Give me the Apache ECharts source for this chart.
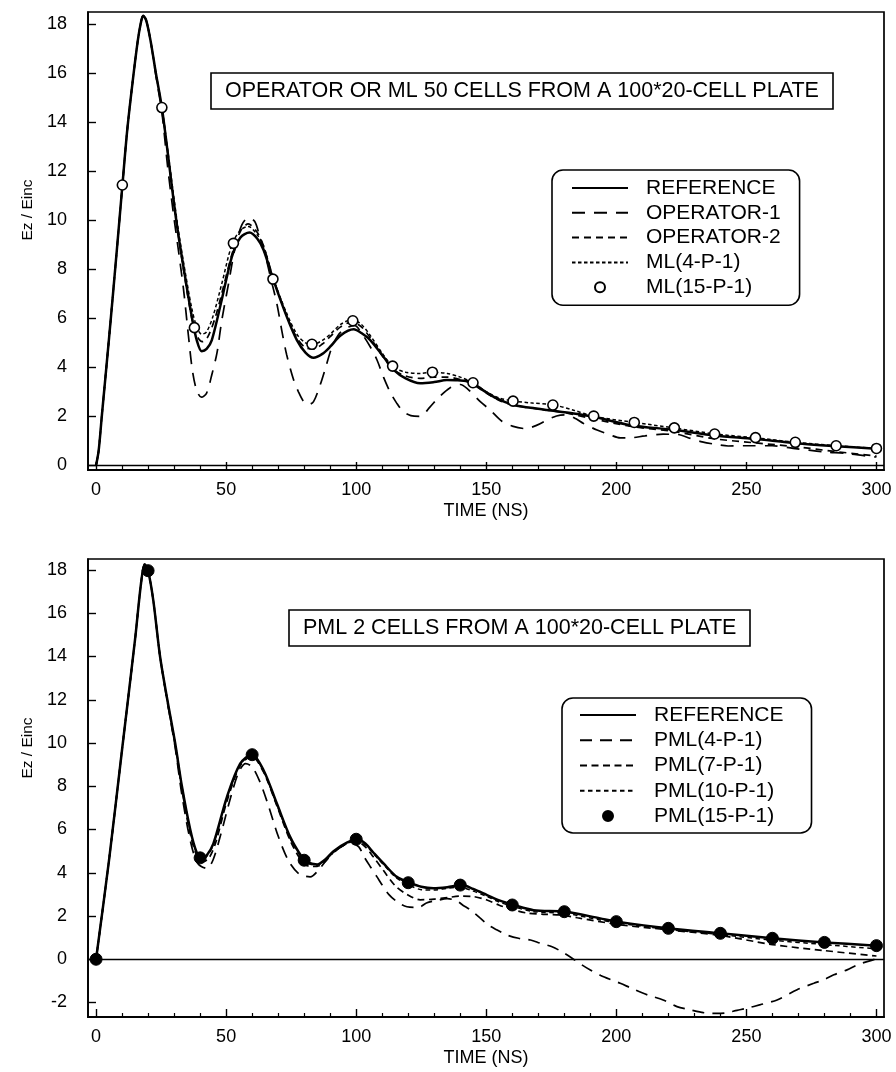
<!DOCTYPE html>
<html><head><meta charset="utf-8">
<script src="https://cdn.jsdelivr.net/npm/echarts@6/dist/echarts.min.js"></script>
<style>html,body{margin:0;padding:0;background:#fff}#c{width:896px;height:1072px}</style>
</head><body><div id="c"></div>
<script>
// ---------- tick labels ----------
const X_TICKS = [0, 50, 100, 150, 200, 250, 300];
const X_MINOR = [10, 20, 30, 40, 60, 70, 80, 90, 110, 120, 130, 140, 160, 170, 180, 190, 210, 220, 230, 240, 260, 270, 280, 290];
const TOP_Y_TICKS = [0, 2, 4, 6, 8, 10, 12, 14, 16, 18];
const BOT_Y_TICKS = [-2, 0, 2, 4, 6, 8, 10, 12, 14, 16, 18];

// ---------- titles / names ----------
const TOP_TITLE = 'OPERATOR OR ML 50 CELLS FROM A 100*20-CELL PLATE';
const BOT_TITLE = 'PML 2 CELLS FROM A 100*20-CELL PLATE';
const X_NAME = 'TIME (NS)';
const Y_NAME = 'Ez / Einc';
const TOP_NAMES = ['REFERENCE', 'OPERATOR-1', 'OPERATOR-2', 'ML(4-P-1)', 'ML(15-P-1)'];
const BOT_NAMES = ['REFERENCE', 'PML(4-P-1)', 'PML(7-P-1)', 'PML(10-P-1)', 'PML(15-P-1)'];

// ---------- top panel data [time (ns), Ez/Einc] ----------
const TOP_REF = [[0,0],[1,0.6],[2.2,2.0],[5,5.2],[8,8.8],[10.1,11.4],[12,13.7],[14,15.6],[16,17.3],[17.2,18.05],[18.1,18.35],[19.3,18.15],[21,17.3],[23,16.0],[25.3,14.6],[27.5,12.8],[29.7,10.9],[31.5,9.5],[33.6,8.1],[36.8,6.07],[38.7,5.11],[40.6,4.66],[42.5,4.75],[44.5,5.11],[48.3,6.75],[52.2,8.51],[55.5,9.3],[59,9.5],[62,9.25],[64.4,8.79],[68.2,7.56],[73.3,6.07],[77.2,5.11],[80.5,4.6],[83.6,4.39],[87,4.55],[90,4.84],[94,5.3],[99,5.55],[102,5.4],[105.4,5.11],[110.5,4.43],[114.4,3.9],[119,3.55],[124.6,3.35],[130,3.4],[134.9,3.48],[139,3.47],[143.8,3.41],[149,3.05],[154,2.73],[160.5,2.46],[167,2.35],[173.3,2.26],[183.6,2.12],[191.3,1.98],[205.4,1.64],[222,1.45],[238,1.22],[253,1.08],[269,0.9],[284.5,0.78],[300,0.68]];
const TOP_OP1 = [[0,0],[1,0.6],[2.2,2.0],[5,5.2],[8,8.8],[10.1,11.4],[12,13.7],[14,15.6],[16,17.3],[17.2,18.05],[18.1,18.35],[19.3,18.15],[21,17.3],[23,15.9],[25.3,14.4],[27.5,12.2],[29.7,10.3],[31.5,8.9],[33.6,7.2],[35.5,5.3],[37,3.9],[38.7,3.05],[40.5,2.78],[42.5,2.95],[44.5,3.7],[46.5,4.6],[48.3,5.9],[50.9,7.4],[53.5,8.9],[56,9.8],[58.5,10.1],[61,9.95],[63,9.3],[65,8.6],[67,7.7],[69.5,6.6],[71.4,5.5],[73.3,4.5],[75.9,3.5],[77.8,3.0],[79.7,2.62],[81.6,2.48],[83.6,2.6],[86.2,3.3],[88,3.9],[90.6,4.8],[93,5.3],[96,5.6],[99.5,5.7],[102,5.4],[105.4,4.84],[108,4.3],[110.5,3.6],[113,3.0],[115.5,2.55],[118,2.2],[121,2.03],[124.6,2.0],[128.5,2.4],[131.5,2.75],[136,3.16],[140,3.3],[143,3.1],[147.7,2.6],[151.5,2.26],[156,1.8],[160,1.6],[165,1.5],[169.5,1.64],[174.6,1.92],[178.5,2.05],[181,2.06],[184.5,1.9],[187.4,1.71],[192.6,1.44],[197.7,1.24],[201.5,1.12],[205,1.12],[211,1.2],[218,1.27],[223.5,1.26],[228.5,1.1],[233,0.96],[238,0.86],[243,0.79],[250,0.8],[260,0.8],[268,0.69],[274,0.62],[280,0.55],[289,0.48],[296,0.38],[300,0.34]];
const TOP_OP2 = [[0,0],[1,0.6],[2.2,2.0],[5,5.2],[8,8.8],[10.1,11.4],[12,13.7],[14,15.6],[16,17.3],[17.2,18.05],[18.1,18.35],[19.3,18.15],[21,17.3],[23,16.0],[25.3,14.6],[27.5,12.8],[29.7,10.9],[31.5,9.5],[33.6,8.0],[36.8,6.0],[38.7,5.3],[40.8,5.05],[43,5.25],[46,6.1],[49,7.3],[52.2,8.6],[55.5,9.55],[58.5,9.85],[62,9.5],[64.4,8.95],[68.2,7.6],[73.3,6.1],[77.2,5.2],[80.5,4.8],[83.6,4.75],[87,4.95],[90,5.25],[94,5.65],[98.5,5.85],[102,5.65],[105.4,5.2],[110.5,4.4],[114.4,3.9],[119,3.65],[124.6,3.55],[130,3.6],[135,3.6],[140,3.5],[145,3.3],[150,2.95],[155,2.65],[160.5,2.45],[170,2.3],[180,2.15],[191,1.9],[205,1.6],[222,1.38],[238,1.08],[253,0.92],[269,0.76],[284.5,0.56],[300,0.38]];
const TOP_ML4 = [[0,0],[1,0.6],[2.2,2.0],[5,5.2],[8,8.8],[10.1,11.4],[12,13.7],[14,15.6],[16,17.3],[17.2,18.05],[18.1,18.35],[19.3,18.15],[21,17.3],[23,16.0],[25.3,14.6],[27.5,12.9],[29.7,11.1],[31.5,9.7],[33.6,8.3],[36.8,6.4],[38.7,5.65],[40.6,5.35],[42.5,5.45],[45,6.1],[48.3,7.4],[52.2,9.0],[55.5,9.6],[58.5,9.75],[62,9.4],[64.4,8.95],[68.2,7.6],[73.3,6.2],[77.2,5.35],[80.5,5.0],[83.6,4.95],[87,5.1],[90,5.35],[94,5.75],[98.5,5.95],[102,5.75],[105.4,5.3],[110.5,4.5],[114.4,4.0],[119,3.8],[124.6,3.75],[129.3,3.8],[135,3.75],[140,3.6],[145,3.37],[150,3.0],[155,2.75],[160.5,2.62],[167,2.55],[176,2.46],[183.6,2.25],[191.3,2.0],[207,1.75],[222,1.53],[238,1.28],[253,1.13],[269,0.94],[284.5,0.8],[300,0.69]];
const TOP_ML15 = [[10.1,11.44],[25.3,14.6],[37.8,5.62],[52.8,9.06],[68,7.6],[83,4.94],[98.7,5.9],[114,4.05],[129.3,3.8],[144.9,3.37],[160.3,2.62],[175.6,2.46],[191.3,2.01],[206.9,1.75],[222.3,1.53],[237.8,1.28],[253.5,1.13],[268.8,0.94],[284.5,0.8],[300,0.69]];

// ---------- bottom panel data [time (ns), Ez/Einc] ----------
const BOT_REF = [[0,0],[5,4.6],[10,9.7],[15,14.8],[17.3,17.4],[18.7,18.27],[20,17.97],[22,16.6],[24.6,14.0],[27.4,12.0],[30.4,10.0],[33,8.0],[36.2,6.0],[38.5,5.0],[40.6,4.66],[42.5,4.8],[45.1,5.35],[50.3,7.5],[55.4,9.05],[59.9,9.47],[64.4,8.74],[69.5,7.2],[74.6,5.66],[79.1,4.73],[81,4.5],[85,4.38],[88,4.6],[91.3,5.0],[96.4,5.39],[100.5,5.55],[103.5,5.35],[106.5,4.95],[110.5,4.43],[115.6,3.81],[120.5,3.54],[125,3.35],[129.7,3.28],[135,3.33],[140.6,3.43],[145,3.25],[150.3,2.97],[155,2.72],[160.5,2.51],[168.2,2.27],[180.4,2.2],[193.8,1.89],[200.3,1.74],[220,1.43],[240,1.2],[260,0.97],[280,0.78],[300,0.63]];
const BOT_PML4 = [[0,0],[5,4.6],[10,9.7],[15,14.8],[17.3,17.4],[18.7,18.27],[20,17.97],[22,16.6],[24.6,14.0],[27.4,11.9],[30.4,9.8],[33,7.6],[36.2,5.5],[39,4.45],[42.6,4.2],[45,4.6],[48,5.8],[52,7.6],[55,8.7],[57.5,9.05],[60,8.9],[63,8.2],[66,7.2],[70,5.7],[74,4.55],[78,3.95],[82.3,3.81],[86,4.2],[90,4.8],[95,5.25],[98.5,5.35],[101,5.2],[103,4.75],[105.5,4.27],[108,3.81],[110,3.43],[112.5,3.0],[115.7,2.66],[119.5,2.43],[124,2.4],[127,2.6],[131,2.72],[135,2.8],[138.7,2.7],[141,2.5],[143.8,2.29],[147.7,1.9],[150.8,1.58],[154.2,1.35],[158,1.12],[162.4,0.97],[167,0.89],[170.8,0.74],[175.3,0.58],[179,0.35],[183,0.05],[186,-0.2],[190,-0.5],[194,-0.75],[198,-0.95],[201.5,-1.11],[206,-1.35],[212,-1.65],[218,-1.88],[223.3,-2.19],[228.5,-2.34],[233.5,-2.47],[238,-2.5],[242,-2.48],[246.4,-2.36],[250.3,-2.26],[255.4,-2.1],[261.8,-1.88],[269.5,-1.41],[275.9,-1.11],[279.7,-0.95],[283.6,-0.72],[288.7,-0.49],[292.6,-0.26],[296.4,-0.11],[300.3,0.03]];
const BOT_PML7 = [[0,0],[5,4.6],[10,9.7],[15,14.8],[17.3,17.4],[18.7,18.27],[20,17.97],[22,16.6],[24.6,14.0],[27.4,11.95],[30.4,9.9],[33,7.85],[36.2,5.8],[38.7,4.8],[41,4.5],[43.5,4.7],[46,5.4],[50.3,7.3],[55.4,8.95],[59.8,9.38],[64.4,8.65],[69.5,7.1],[74.6,5.5],[79,4.55],[82,4.3],[85,4.3],[88,4.5],[91.3,4.95],[96.4,5.35],[100.3,5.45],[103.5,5.2],[106.5,4.75],[110.5,4.1],[115,3.4],[119.5,3.0],[124.6,2.75],[130,2.78],[135,2.85],[140,2.92],[145,2.9],[150,2.75],[155,2.5],[160,2.3],[165.6,2.14],[172,2.08],[178.5,2.05],[185,1.92],[200,1.62],[220,1.36],[240,1.1],[260,0.68],[280,0.4],[300,0.15]];
const BOT_PML10 = [[0,0],[5,4.6],[10,9.7],[15,14.8],[17.3,17.4],[18.7,18.27],[20,17.97],[22,16.6],[24.6,14.0],[27.4,12.0],[30.4,10.0],[33,8.0],[36.2,5.95],[38.5,4.95],[40.6,4.62],[42.5,4.75],[45.1,5.3],[50.3,7.45],[55.4,9.0],[59.9,9.43],[64.4,8.7],[69.5,7.15],[74.6,5.6],[79.1,4.68],[81,4.45],[85,4.35],[88,4.55],[91.3,4.95],[96.4,5.35],[100.5,5.5],[103.5,5.3],[106.5,4.9],[110.5,4.38],[115.6,3.75],[120.5,3.42],[125,3.22],[130,3.2],[135,3.28],[140,3.33],[145,3.15],[150.3,2.9],[155,2.65],[160.5,2.43],[168.2,2.2],[180.4,2.12],[193.8,1.82],[200.3,1.68],[220,1.38],[240,1.14],[260,0.88],[280,0.68],[300,0.48]];
const BOT_PML15 = [[0,0],[20,17.97],[40,4.69],[60,9.46],[80,4.58],[100,5.55],[120,3.54],[140,3.43],[160,2.51],[180,2.2],[200,1.74],[220,1.43],[240,1.2],[260,0.97],[280,0.78],[300,0.63]];

// ---------- build chart ----------
const FONT = "'Liberation Sans', Arial, Helvetica, sans-serif";
const BLACK = '#000';
const chart = echarts.init(document.getElementById('c'), null, {renderer: 'canvas'});

const X_MIN = -3.1, X_MAX = 302.9;
function mainX(gi) {
  return {
    type: 'value', gridIndex: gi, min: X_MIN, max: X_MAX, position: 'bottom',
    axisLine: {show: true, onZero: false, lineStyle: {color: BLACK, width: 1.7}}, splitLine: {show: false},
    axisTick: {show: true, inside: true, length: 8, customValues: X_TICKS, lineStyle: {color: BLACK, width: 1.4}},
    axisLabel: {customValues: X_TICKS, color: BLACK, fontSize: 18, margin: 11, fontFamily: FONT},
    name: X_NAME, nameLocation: 'middle', nameGap: 32,
    nameTextStyle: {color: BLACK, fontSize: 18, fontFamily: FONT}
  };
}
function minorX(gi) {
  return {
    type: 'value', gridIndex: gi, min: X_MIN, max: X_MAX, position: 'bottom',
    axisLine: {show: true, onZero: false, lineStyle: {color: BLACK, width: 1.7}}, splitLine: {show: false},
    axisTick: {show: true, inside: true, length: 4, customValues: X_MINOR, lineStyle: {color: BLACK, width: 1.2}},
    axisLabel: {show: false}
  };
}
function mainY(gi, mn, mx, ticks, namePad) {
  return {
    type: 'value', gridIndex: gi, min: mn, max: mx,
    axisLine: {show: true, onZero: false, lineStyle: {color: BLACK, width: 1.7}}, splitLine: {show: false},
    axisTick: {show: true, inside: true, length: 8, customValues: ticks, lineStyle: {color: BLACK, width: 1.4}},
    axisLabel: {customValues: ticks, color: BLACK, fontSize: 18, margin: 21, fontFamily: FONT, padding: [0, 0, 9, 0]},
    name: Y_NAME, nameLocation: 'middle', nameRotate: 90, nameGap: 48,
    nameTextStyle: {color: BLACK, fontSize: 15.5, fontFamily: FONT, padding: [0, 0, 0, namePad]}
  };
}
function lineSeries(name, data, xi, yi, width, dash, z) {
  return {
    type: 'line', name: name, data: data, xAxisIndex: xi, yAxisIndex: yi,
    smooth: 0.3, symbol: 'none', z: z,
    lineStyle: {color: BLACK, width: width, type: dash},
    itemStyle: {color: BLACK, opacity: 0}
  };
}
const zeroLine = {
  silent: true, symbol: 'none', label: {show: false},
  lineStyle: {color: BLACK, width: 1.3, type: 'solid', opacity: 1},
  data: [{yAxis: 0}]
};
function legendBox(names, left, top, pad, gap) {
  return {
    orient: 'vertical', left: left, top: top, padding: pad,
    itemWidth: 56, itemHeight: 10, itemGap: gap,
    borderColor: BLACK, borderWidth: 1.6, borderRadius: 11,
    selectedMode: false, data: names,
    textStyle: {color: BLACK, fontSize: 21, fontFamily: FONT, lineHeight: 21, padding: [0, 0, 0, 13]}
  };
}

const refTop = lineSeries(TOP_NAMES[0], TOP_REF, 0, 0, 2.5, 'solid', 6);
refTop.markLine = zeroLine;
const refBot = lineSeries(BOT_NAMES[0], BOT_REF, 2, 1, 2.5, 'solid', 6);
refBot.markLine = zeroLine;

const option = {
  animation: false,
  backgroundColor: '#fff',
  textStyle: {fontFamily: FONT, color: BLACK},
  title: [
    {text: TOP_TITLE, left: 211, top: 73, padding: [7, 14, 7, 14], borderColor: BLACK, borderWidth: 1.6,
     textStyle: {fontSize: 21.5, fontWeight: 'normal', color: BLACK, fontFamily: FONT, lineHeight: 22}},
    {text: BOT_TITLE, left: 289, top: 610, padding: [7, 14, 7, 14], borderColor: BLACK, borderWidth: 1.6,
     textStyle: {fontSize: 21.5, fontWeight: 'normal', color: BLACK, fontFamily: FONT, lineHeight: 22}}
  ],
  legend: [
    legendBox(TOP_NAMES, 552, 170, [7.5, 19, 7.5, 19], 3.8),
    legendBox(BOT_NAMES, 562, 698, [6.5, 28, 6.5, 17], 4.25)
  ],
  grid: [
    {left: 88, top: 12, width: 796, height: 458, show: true, borderColor: BLACK, borderWidth: 1.7, outerBoundsMode: 'none'},
    {left: 88, top: 559, width: 796, height: 458, show: true, borderColor: BLACK, borderWidth: 1.7, outerBoundsMode: 'none'}
  ],
  xAxis: [mainX(0), minorX(0), mainX(1), minorX(1)],
  yAxis: [
    mainY(0, -0.19, 18.5, TOP_Y_TICKS, 62),
    mainY(1, -2.67, 18.51, BOT_Y_TICKS, 80)
  ],
  series: [
    refTop,
    lineSeries(TOP_NAMES[1], TOP_OP1, 0, 0, 1.7, [13, 9], 4),
    lineSeries(TOP_NAMES[2], TOP_OP2, 0, 0, 1.7, [7, 5], 4),
    lineSeries(TOP_NAMES[3], TOP_ML4, 0, 0, 1.5, [3.5, 2.5], 4),
    {type: 'scatter', name: TOP_NAMES[4], data: TOP_ML15, xAxisIndex: 0, yAxisIndex: 0,
     symbol: 'circle', symbolSize: 10, z: 10,
     itemStyle: {color: '#fff', borderColor: BLACK, borderWidth: 1.6, opacity: 1}},
    refBot,
    lineSeries(BOT_NAMES[1], BOT_PML4, 2, 1, 1.7, [12, 8], 4),
    lineSeries(BOT_NAMES[2], BOT_PML7, 2, 1, 1.7, [7, 4.5], 4),
    lineSeries(BOT_NAMES[3], BOT_PML10, 2, 1, 1.5, [4.5, 3.5], 4),
    {type: 'scatter', name: BOT_NAMES[4], data: BOT_PML15, xAxisIndex: 2, yAxisIndex: 1,
     symbol: 'circle', symbolSize: 12, z: 10,
     itemStyle: {color: BLACK, borderColor: BLACK, borderWidth: 1, opacity: 1}}
  ]
};
chart.setOption(option);
</script>
</body></html>
